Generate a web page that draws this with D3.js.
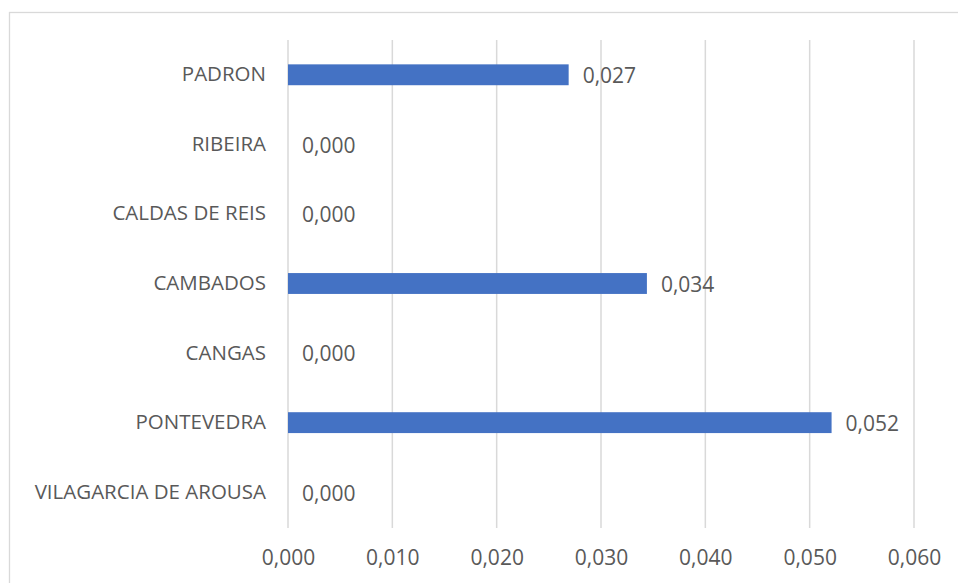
<!DOCTYPE html>
<html><head><meta charset="utf-8">
<script src="https://cdn.jsdelivr.net/npm/d3@7"></script>
<style>body{margin:0;background:#fff;}svg{display:block;}</style>
</head><body>
<svg id="c" width="958" height="583"></svg>
<script>
const categories = ["PADRON","RIBEIRA","CALDAS DE REIS","CAMBADOS","CANGAS","PONTEVEDRA","VILAGARCIA DE AROUSA"];
const values = [0.0269, 0, 0, 0.0344, 0, 0.0521, 0];
const tickValues = [0, 0.01, 0.02, 0.03, 0.04, 0.05, 0.06];

const svg = d3.select("#c");
const fmt = v => d3.format(".3f")(v).replace(".", ",");
const font = "'Open Sans', 'Liberation Sans', sans-serif";

svg.append("rect").attr("x",9.5).attr("y",12.5).attr("width",960).attr("height",600)
  .attr("fill","#fff").attr("stroke","#d9d9d9").attr("stroke-width",1.3);

const x = d3.scaleLinear().domain([0,0.06]).range([288,914]);
const y = d3.scaleBand().domain(categories).range([40,527]).paddingInner(0.7).paddingOuter(0.35);

svg.append("g").selectAll("line").data(tickValues).join("line")
  .attr("x1",d=>x(d)).attr("x2",d=>x(d)).attr("y1",40).attr("y2",528)
  .attr("stroke","#d9d9d9").attr("stroke-width",1.5);

const xAxis = d3.axisBottom(x).tickValues(tickValues).tickFormat(fmt).tickSize(0).tickPadding(0);
const gx = svg.append("g").attr("transform","translate(0,550)").call(xAxis);
gx.select(".domain").remove();
gx.selectAll("text").attr("fill","#595959").style("font-family",font).style("font-size","21px");

const yAxis = d3.axisLeft(y).tickSize(0).tickPadding(0);
const gy = svg.append("g").attr("transform","translate(266,0)").call(yAxis);
gy.select(".domain").remove();
gy.selectAll("text").attr("fill","#595959").style("font-family",font).style("font-size","20.5px");

const bw = y.bandwidth();
svg.append("g").selectAll("rect").data(categories).join("rect")
  .attr("x",x(0)).attr("y",(d)=>y(d))
  .attr("width",(d,i)=>x(values[i])-x(0)).attr("height",bw).attr("fill","#4472C4");

svg.append("g").selectAll("text").data(categories).join("text")
  .attr("x",(d,i)=>x(values[i])+14).attr("y",d=>y(d)+bw/2+1).attr("dy","0.35em")
  .attr("fill","#595959").style("font-family",font).style("font-size","21px")
  .text((d,i)=>fmt(values[i]));
</script>
</body></html>
